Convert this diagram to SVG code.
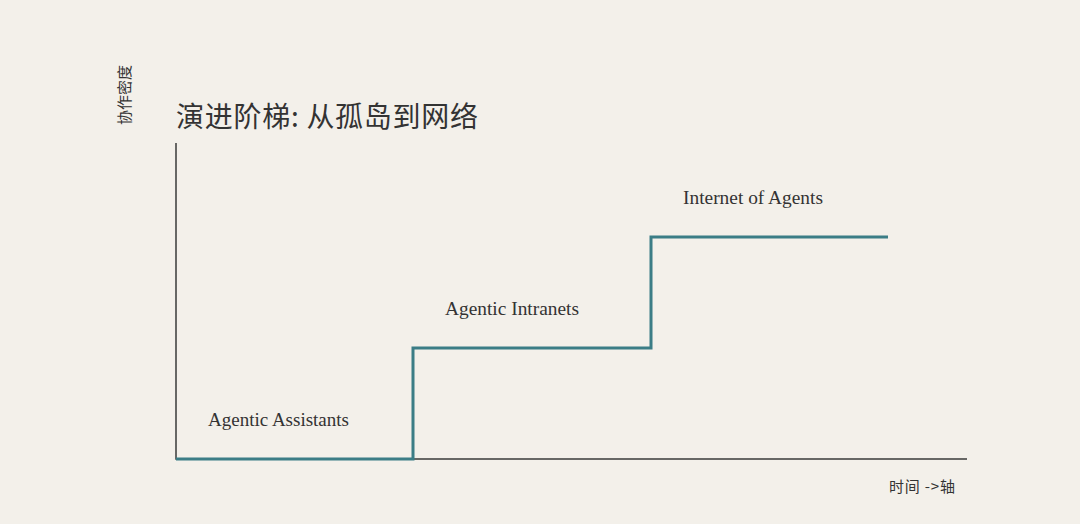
<svg xmlns="http://www.w3.org/2000/svg" width="1080" height="524" viewBox="0 0 1080 524">
<style>
.cjk{font-family:"Noto Sans CJK SC","Noto Sans",sans-serif;fill:#333333}
.lbl{font-family:"Liberation Serif","DejaVu Serif",serif;font-size:18px;fill:#333333}
.axis{stroke:#3a3a3a;stroke-width:1.5;fill:none}
.step{stroke:#3b7d86;stroke-width:3;fill:none}
</style>
<rect width="1080" height="524" fill="#f3f0ea"/>
<g id="title"><text class="cjk" x="176" y="127" font-size="28" textLength="302" lengthAdjust="spacing">演进阶梯: 从孤岛到网络</text></g>
<g id="y-label"><text class="cjk" font-size="15" text-anchor="middle" textLength="60" lengthAdjust="spacing" transform="translate(130,95) rotate(-90)">协作密度</text></g>
<g id="axes">
<path class="axis" d="M176,143 V459 H967"/>
</g>
<g id="connectors">
<path class="step" d="M176,459 H413 V348 H651 V237 H888"/>
</g>
<g id="stage1"><text class="lbl" x="208" y="426" textLength="141" lengthAdjust="spacingAndGlyphs">Agentic Assistants</text></g>
<g id="stage2"><text class="lbl" x="445" y="315" textLength="134" lengthAdjust="spacingAndGlyphs">Agentic Intranets</text></g>
<g id="stage3"><text class="lbl" x="683" y="204" textLength="140" lengthAdjust="spacingAndGlyphs">Internet of Agents</text></g>
<g id="x-label"><text class="cjk" x="889" y="492" font-size="15" textLength="66" lengthAdjust="spacing">时间 -&gt;轴</text></g>
</svg>
